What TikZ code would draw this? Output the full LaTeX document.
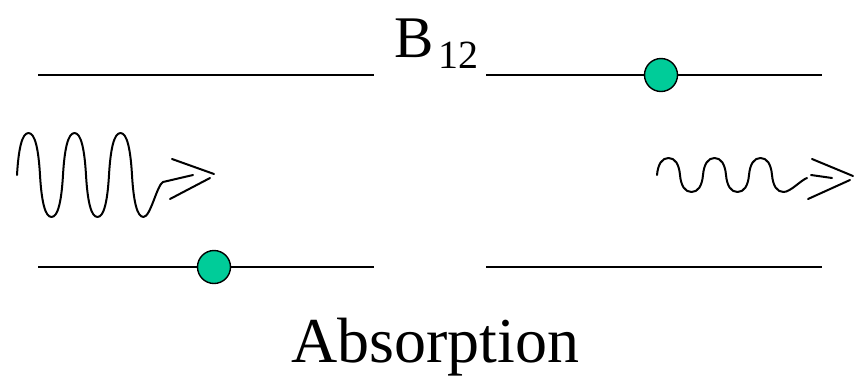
\documentclass[tikz,border=0pt]{standalone}
\usepackage{fontspec}
\setmainfont{Liberation Serif}
\definecolor{dotgreen}{RGB}{0,204,153}
\tikzset{
  level/.style={line width=2pt},
  wave/.style={line width=2pt, line join=round, line cap=round},
  atom/.style={circle, draw=black, line width=1.4pt, fill=dotgreen, minimum size=33pt, inner sep=0pt},
  lbl/.style={inner sep=0pt, anchor=base west}
}
\begin{document}
\begin{tikzpicture}[x=1pt,y=-1pt]
\useasboundingbox (0,0) rectangle (864,376);
% energy levels
\coordinate (tl1) at (38,75);  \coordinate (tl2) at (374,75);
\coordinate (tr1) at (486,75); \coordinate (tr2) at (822,75);
\coordinate (bl1) at (38,267); \coordinate (bl2) at (374,267);
\coordinate (br1) at (486,267);\coordinate (br2) at (822,267);
\draw[level] (tl1) -- (tl2);
\draw[level] (tr1) -- (tr2);
\draw[level] (bl1) -- (bl2);
\draw[level] (br1) -- (br2);
\node[atom] (a2) at (661,75) {};
\node[atom] (a1) at (214,267) {};
% labels
\node[lbl, font=\fontsize{59}{62}\selectfont] (B) at (394,57) {B};
\node[lbl, font=\fontsize{40}{44}\selectfont] (sub) at (438,68) {12};
\node[inner sep=0pt, anchor=base, font=\fontsize{64}{70}\selectfont] (abs) at (435,362) {Absorption};
% left photon
\coordinate (lw0) at (17,175);
\draw[wave] (lw0)
  .. controls +(1.5,-26) and +(-6.5,0) .. ++(11.5,-42)
  .. controls +(6.5,0) and +(-1.5,-26) .. ++(11.5,42)
  .. controls +(1.5,26) and +(-6.5,0) .. ++(11.5,42)
  .. controls +(6.5,0) and +(-1.5,26) .. ++(11.5,-42)
  .. controls +(1.5,-26) and +(-6.5,0) .. ++(11.5,-42)
  .. controls +(6.5,0) and +(-1.5,-26) .. ++(11.5,42)
  .. controls +(1.5,26) and +(-6.5,0) .. ++(11.5,42)
  .. controls +(6.5,0) and +(-1.5,26) .. ++(11.5,-42)
  .. controls +(1.5,-26) and +(-6.5,0) .. ++(11.5,-42)
  .. controls +(6.5,0) and +(-1.5,-26) .. ++(11.5,42)
  .. controls +(1.5,26) and +(-6.5,0) .. ++(11.5,42)
  .. controls +(7,0) and +(-6,3) .. (163,182) -- (193,175);
\coordinate (lh1) at (172,159); \coordinate (lh2) at (214,174);
\coordinate (lh3) at (170,199); \coordinate (lh4) at (210,178);
\draw[wave] (lh1) -- (lh2);
\draw[wave] (lh3) -- (lh4);
% right photon
\coordinate (rw0) at (657,175);
\draw[wave] (rw0)
  .. controls +(1,-11) and +(-6.5,0) .. ++(11.5,-17)
  .. controls +(6.5,0) and +(-1,-11) .. ++(11.5,17)
  .. controls +(1,11) and +(-6.5,0) .. ++(11.5,17)
  .. controls +(6.5,0) and +(-1,11) .. ++(11.5,-17)
  .. controls +(1,-11) and +(-6.5,0) .. ++(11.5,-17)
  .. controls +(6.5,0) and +(-1,-11) .. ++(11.5,17)
  .. controls +(1,11) and +(-6.5,0) .. ++(11.5,17)
  .. controls +(6.5,0) and +(-1,11) .. ++(11.5,-17)
  .. controls +(1,-11) and +(-6.5,0) .. ++(11.5,-17)
  .. controls +(6.5,0) and +(-1,-11) .. ++(11.5,17)
  .. controls +(1,11) and +(-6.5,0) .. ++(11.5,17)
  .. controls +(7,0) and +(-6,2) .. (807,178);
\coordinate (rs1) at (811,175); \coordinate (rs2) at (832,178);
\draw[wave] (rs1) -- (rs2);
\coordinate (rh1) at (812,159); \coordinate (rh2) at (853,176);
\coordinate (rh3) at (808,199); \coordinate (rh4) at (850,180);
\draw[wave] (rh1) -- (rh2);
\draw[wave] (rh3) -- (rh4);
\end{tikzpicture}
\end{document}
